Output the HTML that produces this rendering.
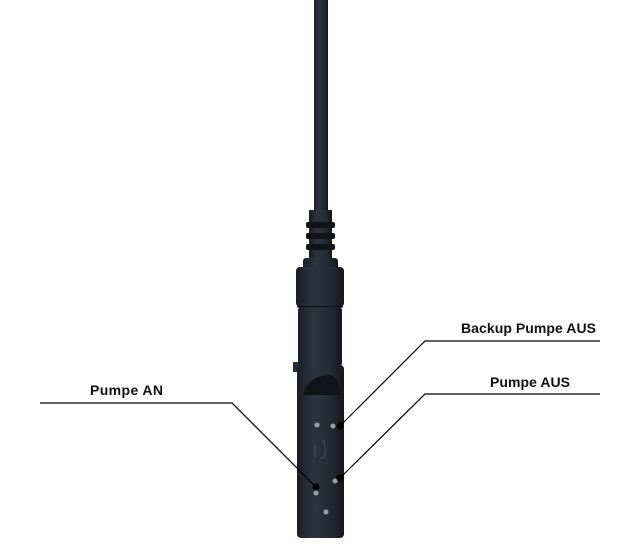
<!DOCTYPE html>
<html><head><style>body{margin:0;background:#fff}svg{display:block}</style></head><body>
<svg width="640" height="560" viewBox="0 0 640 560" xmlns="http://www.w3.org/2000/svg">
<defs>
<linearGradient id="g" x1="0" x2="1">
<stop offset="0" stop-color="#1a1d24"/><stop offset="0.35" stop-color="#2e3340"/><stop offset="0.7" stop-color="#262a35"/><stop offset="1" stop-color="#15171d"/>
</linearGradient>
</defs>
<rect x="314" y="0" width="14" height="215" fill="url(#g)"/>
<path d="M309 210 h23 v60 h-23z" fill="url(#g)"/>
<g fill="#111318">
<rect x="306" y="222" width="29" height="6" rx="2"/>
<rect x="306" y="233" width="29" height="6" rx="2"/>
<rect x="306" y="244" width="29" height="6" rx="2"/>
</g>
<rect x="303" y="258" width="35" height="12" rx="3" fill="url(#g)"/>
<rect x="296" y="267" width="48" height="40" rx="4" fill="url(#g)"/>
<rect x="297" y="306" width="46" height="1.5" fill="#0e1014"/>
<rect x="298" y="307" width="44" height="59" rx="3" fill="url(#g)"/>
<rect x="293" y="362" width="6" height="10" fill="#2a2e38"/>
<rect x="297" y="365" width="47" height="173" rx="4" fill="url(#g)"/>
<path d="M303 395 q4 -18 25 -20 q12 0 12 20z" fill="#111318"/>
<g fill="#9aa0aa">
<circle cx="317" cy="425" r="2.5"/><circle cx="333" cy="426" r="2.5"/>
<circle cx="335" cy="481" r="2.5"/><circle cx="316" cy="493" r="2.5"/><circle cx="326" cy="512" r="2.5"/>
</g>
<path d="M315 445 v12 M322 440 q4 2 3 15 q-2 5 -5 2" stroke="#4a505c" stroke-width="1" fill="none"/>
<g stroke="#000" stroke-width="1.2" fill="none">
<polyline points="600,341 425,341 340,426"/>
<polyline points="600,394 425,394 340,478"/>
<polyline points="40,403 232,403 316,487"/>
</g>
<g fill="#000"><circle cx="340" cy="426" r="3.5"/><circle cx="340" cy="478" r="3.5"/><circle cx="316" cy="487" r="3.5"/></g>
<g font-family="Liberation Sans, sans-serif" font-weight="bold" font-size="14" fill="#111">
<text x="461" y="333" textLength="135">Backup Pumpe AUS</text>
<text x="490" y="387" textLength="80">Pumpe AUS</text>
<text x="90" y="395" textLength="73">Pumpe AN</text>
</g>
</svg>
</body></html>
